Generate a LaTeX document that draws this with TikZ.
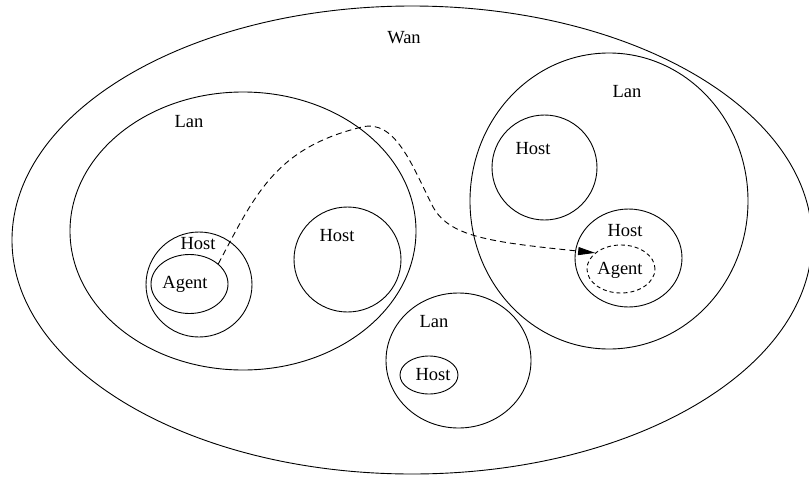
\documentclass[tikz,border=0pt]{standalone}
\usepackage{fontspec}
\setmainfont{Liberation Serif}
\usetikzlibrary{shapes.geometric,arrows.meta}
\begin{document}
\begin{tikzpicture}[x=1pt,y=-1pt,
  blob/.style={draw,ellipse,inner sep=0pt,line width=0.9pt},
  agentdash/.style={blob,dash pattern=on 4pt off 3pt},
  lbl/.style={anchor=base,inner sep=0pt,font=\fontsize{18.5}{22}\selectfont},
  route/.style={line width=0.9pt,dash pattern=on 6pt off 4pt,
    -{Triangle[length=17pt,width=8pt]}}]
\useasboundingbox (0,0) rectangle (809,477);
\clip (0,0) rectangle (809,477);
\fill[white] (0,0) rectangle (809,477);

% wide area network
\node[blob,minimum width=800pt,minimum height=468pt] (wan) at (412,240) {};
\node[lbl] (wanlbl) at (404,43) {Wan};

% left LAN with the agent's origin host
\node[blob,minimum width=346pt,minimum height=278pt] (lanL) at (243,231) {};
\node[lbl] (lanLlbl) at (189,127) {Lan};
\node[blob,minimum width=106pt,minimum height=105pt] (hostL) at (199,284.5) {};
\node[lbl] (hostLlbl) at (198,249) {Host};
\node[blob,minimum width=77pt,minimum height=59pt] (agentL) at (189.5,284) {};
\node[lbl] (agentLlbl) at (185,288) {Agent};
\node[blob,minimum width=107pt,minimum height=105pt] (hostM) at (347.5,259.5) {};
\node[lbl] (hostMlbl) at (337,241) {Host};

% right LAN with the destination host
\node[blob,minimum width=278pt,minimum height=296pt] (lanR) at (609,201) {};
\node[lbl] (lanRlbl) at (627,97) {Lan};
\node[blob,minimum width=105pt,minimum height=105pt] (hostRU) at (544.5,167.5) {};
\node[lbl] (hostRUlbl) at (533,154) {Host};
\node[blob,minimum width=107pt,minimum height=98pt] (hostRL) at (628.5,258) {};
\node[lbl] (hostRLlbl) at (625,236) {Host};
\node[agentdash,minimum width=68pt,minimum height=48pt] (agentR) at (621,269) {};
\node[lbl] (agentRlbl) at (620,274) {Agent};

% bottom LAN
\node[blob,minimum width=145pt,minimum height=135pt] (lanB) at (458.5,360.5) {};
\node[lbl] (lanBlbl) at (434,327) {Lan};
\node[blob,minimum width=58pt,minimum height=38pt] (hostB) at (429,375) {};
\node[lbl] (hostBlbl) at (433,380) {Host};

% agent migration route
\coordinate (crest) at (362,127);
\coordinate (drop) at (432,205);
\draw[route] (agentL.35) .. controls (255,195) and (275,148) .. (crest)
  .. controls (395,119) and (412,165) .. (drop)
  .. controls (448,237) and (490,242) .. (agentR.148);
\end{tikzpicture}
\end{document}
